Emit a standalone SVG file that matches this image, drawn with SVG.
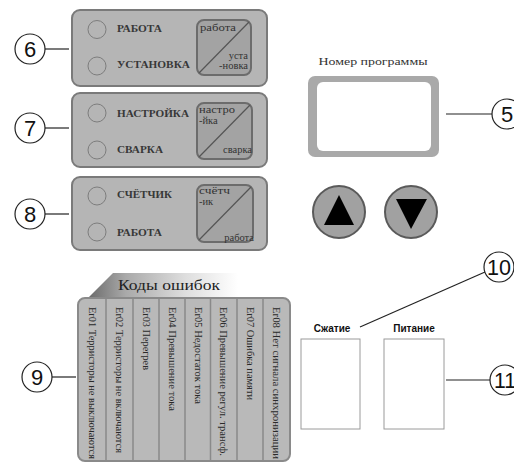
<svg xmlns="http://www.w3.org/2000/svg" width="514" height="467" viewBox="0 0 514 467">
<defs>
<linearGradient id="tabGrad" gradientUnits="userSpaceOnUse" x1="88" y1="0" x2="238" y2="0">
<stop offset="0" stop-color="#6a6a6a"/>
<stop offset="0.25" stop-color="#a9a9a9"/>
<stop offset="0.65" stop-color="#dedede"/>
<stop offset="1" stop-color="#ffffff"/>
</linearGradient>
</defs>
<style>
.panel{fill:#b5b5b5;stroke:#7a7a7a;stroke-width:2}
.btn{fill:#a3a3a3;stroke:#6c6c6c;stroke-width:2}
.diag{stroke:#555;stroke-width:1.2;fill:none}
.led{fill:#b5b5b5;stroke:#7d7d7d;stroke-width:1}
.lbl{font-family:"Liberation Serif",serif;font-size:11px;fill:#383838;font-weight:bold}
.bt{font-family:"Liberation Serif",serif;font-size:10.5px;fill:#333}
.num{font-family:"Liberation Sans",Arial,sans-serif;font-size:22px;fill:#111;text-anchor:middle}
.call{fill:#fff;stroke:#222;stroke-width:1.2}
.lead{stroke:#222;stroke-width:1.2;fill:none}
.err{font-family:"Liberation Serif",serif;font-size:10.5px;fill:#2a2a2a}
.div{stroke:#8a8a8a;stroke-width:1.5}
.arrowbtn{fill:#a1a1a1;stroke:#5a5a5a;stroke-width:2}
.bold{font-family:"Liberation Sans",Arial,sans-serif;font-size:10px;font-weight:bold;fill:#111;text-anchor:middle}
</style>
<rect width="514" height="467" fill="#fff"/>

<g id="panel6">
<rect class="panel" x="72" y="10" width="195" height="76" rx="8"/>
<circle class="led" cx="97" cy="29.5" r="9"/>
<circle class="led" cx="97" cy="66" r="9"/>
<text class="lbl" x="117" y="32" textLength="45" lengthAdjust="spacingAndGlyphs">РАБОТА</text>
<text class="lbl" x="117" y="68" textLength="73" lengthAdjust="spacingAndGlyphs">УСТАНОВКА</text>
<rect class="btn" x="197" y="20" width="54" height="55" rx="7"/>
<line class="diag" x1="199" y1="73" x2="249" y2="22"/>
<text class="bt" x="200" y="31" textLength="36" lengthAdjust="spacingAndGlyphs">работа</text>
<text class="bt" x="248" y="59" text-anchor="end">уста</text>
<text class="bt" x="248" y="69" text-anchor="end">-новка</text>
</g>

<g id="panel7">
<rect class="panel" x="72" y="93" width="195" height="74" rx="8"/>
<circle class="led" cx="97" cy="113" r="9"/>
<circle class="led" cx="97" cy="150" r="9"/>
<text class="lbl" x="117" y="117" textLength="72" lengthAdjust="spacingAndGlyphs">НАСТРОЙКА</text>
<text class="lbl" x="117" y="153" textLength="46" lengthAdjust="spacingAndGlyphs">СВАРКА</text>
<rect class="btn" x="197" y="103" width="55" height="56" rx="7"/>
<line class="diag" x1="199" y1="157" x2="250" y2="105"/>
<text class="bt" x="199" y="113" textLength="36" lengthAdjust="spacingAndGlyphs">настро</text>
<text class="bt" x="199" y="124">-йка</text>
<text class="bt" x="252" y="153" text-anchor="end">сварка</text>
</g>

<g id="panel8">
<rect class="panel" x="72" y="177" width="195" height="73" rx="8"/>
<circle class="led" cx="97" cy="196" r="9"/>
<circle class="led" cx="97" cy="232" r="9"/>
<text class="lbl" x="117" y="198" textLength="55" lengthAdjust="spacingAndGlyphs">СЧЁТЧИК</text>
<text class="lbl" x="117" y="236" textLength="45" lengthAdjust="spacingAndGlyphs">РАБОТА</text>
<rect class="btn" x="197" y="185" width="56" height="57" rx="7"/>
<line class="diag" x1="199" y1="240" x2="251" y2="187"/>
<text class="bt" x="199" y="194" textLength="31" lengthAdjust="spacingAndGlyphs">счётч</text>
<text class="bt" x="199" y="205">-ик</text>
<text class="bt" x="254" y="241" text-anchor="end">работа</text>
</g>

<g id="display">
<text x="373" y="65" text-anchor="middle" font-family="Liberation Serif, serif" font-size="11" fill="#333" textLength="109" lengthAdjust="spacingAndGlyphs">Номер программы</text>
<rect x="308" y="76" width="131" height="81" rx="7" fill="#a9a9a9"/>
<rect x="317" y="82" width="114" height="69" rx="6" fill="#fff"/>
</g>

<g id="btnUp">
<circle class="arrowbtn" cx="339" cy="212" r="26"/>
<polygon points="339,195 324,225 354,225" fill="#000"/>
</g>
<g id="btnDown">
<circle class="arrowbtn" cx="411" cy="212" r="26"/>
<polygon points="396,199 427,199 411,229" fill="#000"/>
</g>

<g id="errorCodes">
<polygon points="87,299 113,273 238,273 238,299" fill="url(#tabGrad)"/>
<text x="118" y="290" font-family="Liberation Serif, serif" font-size="15" fill="#222" textLength="102" lengthAdjust="spacingAndGlyphs">Коды ошибок</text>
<rect x="78" y="298" width="212" height="163" rx="7" fill="#b9b9b9" stroke="#8a8a8a" stroke-width="2"/>
<line class="div" x1="106" y1="299" x2="106" y2="460"/>
<line class="div" x1="133" y1="299" x2="133" y2="460"/>
<line class="div" x1="159" y1="299" x2="159" y2="460"/>
<line class="div" x1="185" y1="299" x2="185" y2="460"/>
<line class="div" x1="210.5" y1="299" x2="210.5" y2="460"/>
<line class="div" x1="237" y1="299" x2="237" y2="460"/>
<line class="div" x1="263" y1="299" x2="263" y2="460"/>
<text class="err" x="89" y="307" transform="rotate(90 89 307)" textLength="152" lengthAdjust="spacingAndGlyphs">Er01 Терристоры не выключаются</text>
<text class="err" x="116" y="307" transform="rotate(90 116 307)" textLength="146" lengthAdjust="spacingAndGlyphs">Er02 Терристоры не включаются</text>
<text class="err" x="142.5" y="307" transform="rotate(90 142.5 307)" textLength="63" lengthAdjust="spacingAndGlyphs">Er03 Перегрев</text>
<text class="err" x="169" y="307" transform="rotate(90 169 307)" textLength="104" lengthAdjust="spacingAndGlyphs">Er04 Превышение тока</text>
<text class="err" x="194.5" y="307" transform="rotate(90 194.5 307)" textLength="97" lengthAdjust="spacingAndGlyphs">Er05 Недостаток тока</text>
<text class="err" x="220" y="307" transform="rotate(90 220 307)" textLength="149" lengthAdjust="spacingAndGlyphs">Er06 Превышение регул. трансф.</text>
<text class="err" x="246.5" y="307" transform="rotate(90 246.5 307)" textLength="93" lengthAdjust="spacingAndGlyphs">Er07 Ошибка памяти</text>
<text class="err" x="273" y="307" transform="rotate(90 273 307)" textLength="152" lengthAdjust="spacingAndGlyphs">Er08 Нет сигнала синхронизации</text>
</g>

<g id="compress">
<text class="bold" x="332" y="332">Сжатие</text>
<rect x="301" y="339" width="59" height="90" fill="#fff" stroke="#9a9a9a" stroke-width="1"/>
</g>
<g id="power">
<text class="bold" x="414" y="332">Питание</text>
<rect x="384" y="339" width="60" height="90" fill="#fff" stroke="#9a9a9a" stroke-width="1"/>
</g>

<g id="connectors">
<line class="lead" x1="45" y1="49" x2="69" y2="49"/>
<line class="lead" x1="45" y1="128" x2="69" y2="128"/>
<line class="lead" x1="45" y1="214" x2="69" y2="214"/>
<line class="lead" x1="52" y1="377" x2="76" y2="377"/>
<line class="lead" x1="446" y1="114" x2="492" y2="114"/>
<line class="lead" x1="360" y1="327" x2="485" y2="272"/>
<line class="lead" x1="446" y1="380" x2="490" y2="380"/>
</g>

<g id="callout6"><circle class="call" cx="30" cy="49" r="15"/><text class="num" x="30" y="57">6</text></g>
<g id="callout7"><circle class="call" cx="30" cy="128" r="15"/><text class="num" x="30" y="136">7</text></g>
<g id="callout8"><circle class="call" cx="30" cy="214" r="15"/><text class="num" x="30" y="222">8</text></g>
<g id="callout9"><circle class="call" cx="37" cy="377" r="15"/><text class="num" x="37" y="385">9</text></g>
<g id="callout5"><circle class="call" cx="507" cy="114" r="15"/><text class="num" x="507" y="122">5</text></g>
<g id="callout10"><circle class="call" cx="499" cy="267" r="15"/><text class="num" x="499" y="275" textLength="24" lengthAdjust="spacingAndGlyphs">10</text></g>
<g id="callout11"><circle class="call" cx="505" cy="380" r="15"/><text class="num" x="505" y="388" textLength="22" lengthAdjust="spacingAndGlyphs">11</text></g>
</svg>
